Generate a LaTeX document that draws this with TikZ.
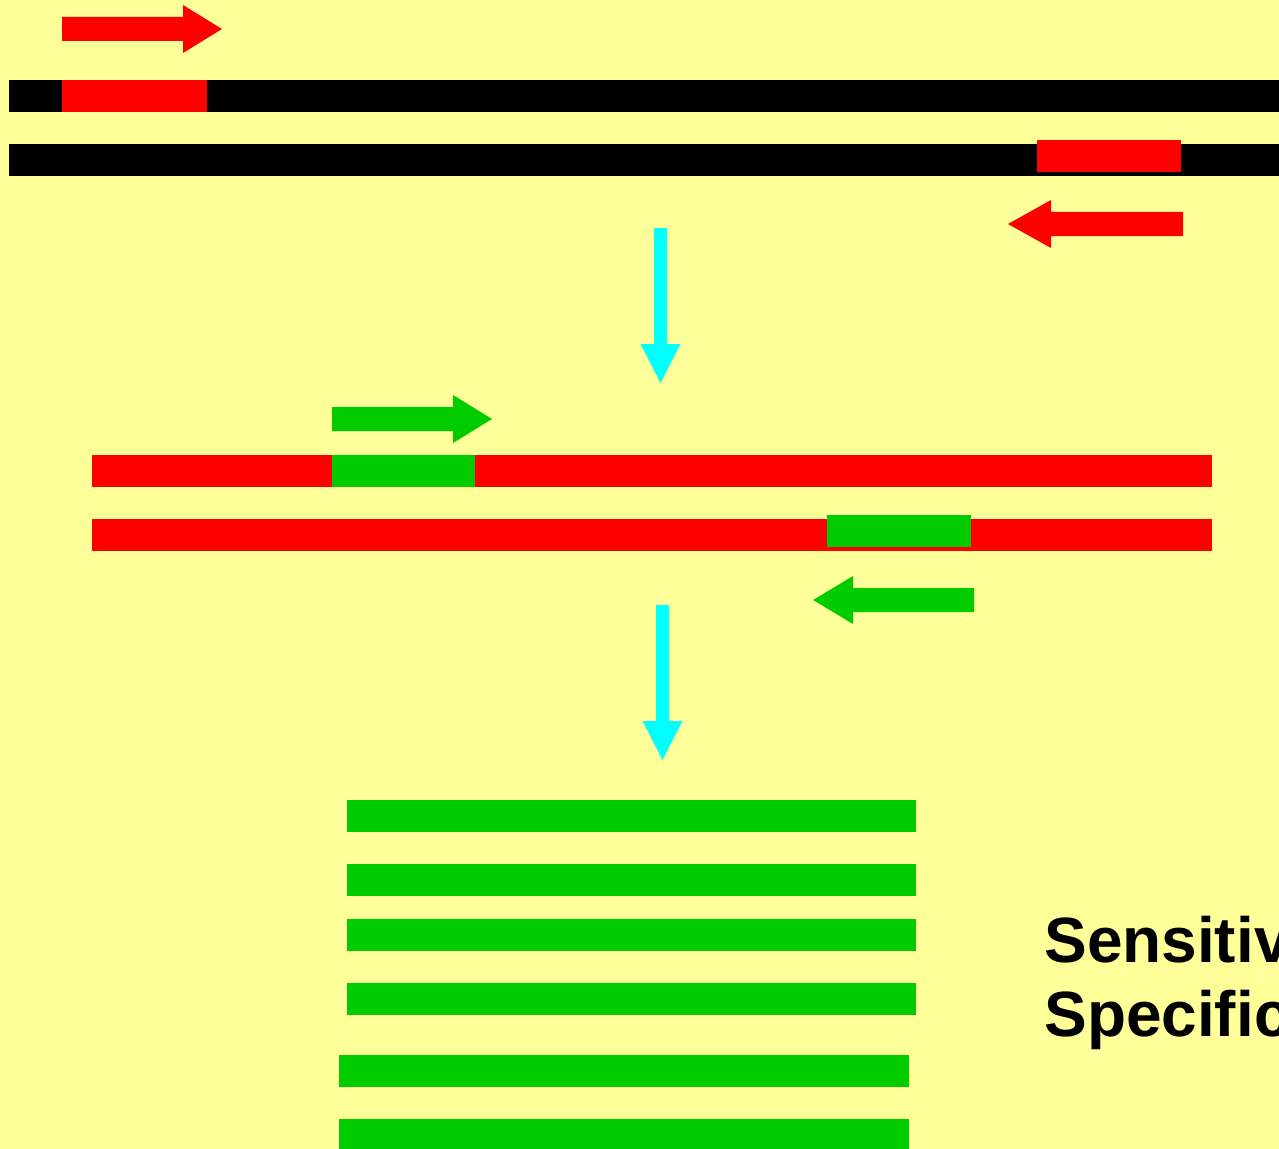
\documentclass[tikz,border=0pt]{standalone}
\usepackage{fontspec}
\setmainfont{Liberation Sans}
\definecolor{Paper}{HTML}{FFFF99}
\definecolor{Primer}{HTML}{FF0000}
\definecolor{Probe}{HTML}{00CC00}
\definecolor{Flow}{HTML}{00FFFF}
\tikzset{
  dna/.style={fill=black},
  amplicon/.style={fill=Primer},
  product/.style={fill=Probe},
  caption/.style={inner sep=0pt, anchor=base west, font=\fontsize{36.4pt}{42pt}\selectfont\bfseries}
}
% block arrow: colour, tail point, angle, length, head length
\newcommand{\primer}[5]{%
  \fill[#1, shift={(#2)}, rotate=#3]
    (0,-12) -- ({#4-#5},-12) -- ({#4-#5},-24) -- (#4,0)
    -- ({#4-#5},24) -- ({#4-#5},12) -- (0,12) -- cycle;
}
% cyan step arrow, hanging down from its tail point
\newcommand{\stepdown}[1]{%
  \fill[Flow, shift={(#1)}]
    (-6.5,0) -- (-6.5,116) -- (-20,116) -- (0,155)
    -- (20,116) -- (6.5,116) -- (6.5,0) -- cycle;
}

\begin{document}
\begin{tikzpicture}[x=0.02cm, y=-0.02cm]
  \useasboundingbox (0,0) rectangle (1279,1149);
  \fill[Paper] (0,0) rectangle (1279,1149);
  \clip (0,0) rectangle (1279,1149);

  % first round: genomic template and outer primers
  \primer{Primer}{62,29}{0}{160}{39}
  \fill[dna] (9,80) rectangle (1279,112);
  \fill[amplicon] (62,80) rectangle (207,112);
  \fill[dna] (9,144) rectangle (1279,176);
  \fill[amplicon] (1037,140) rectangle (1181,172);
  \primer{Primer}{1183,224}{180}{175}{43}

  \stepdown{660.5,228}

  % second round: outer product and inner primers
  \primer{Probe}{332,419}{0}{160}{39}
  \fill[amplicon] (92,455) rectangle (1212,487);
  \fill[product] (332,455) rectangle (475,487);
  \fill[amplicon] (92,519) rectangle (1212,551);
  \fill[product] (827,515) rectangle (971,547);
  \primer{Probe}{974,600}{180}{161}{40}

  \stepdown{662.5,605}

  % nested products
  \foreach \y in {800,864,919,983}
    \fill[product] (347,\y) rectangle (916,\y+32);
  \foreach \y in {1055,1119}
    \fill[product] (339,\y) rectangle (909,\y+32);

  \node[caption] (sens) at (1044,962.7) {Sensitivity};
  \node[caption] (spec) at (1044,1036.7) {Specificity};
\end{tikzpicture}
\end{document}
